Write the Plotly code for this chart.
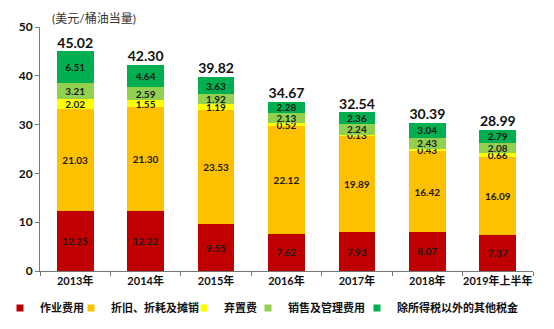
import plotly.graph_objects as go

years = ["2013年", "2014年", "2015年", "2016年", "2017年", "2018年", "2019年上半年"]
operating = [12.25, 12.22, 9.55, 7.62, 7.93, 8.07, 7.37]
depreciation = [21.03, 21.30, 23.53, 22.12, 19.89, 16.42, 16.09]
abandonment = [2.02, 1.55, 1.19, 0.52, 0.13, 0.43, 0.66]
sales_admin = [3.21, 2.59, 1.92, 2.13, 2.24, 2.43, 2.08]
other_tax = [6.51, 4.64, 3.63, 2.28, 2.36, 3.04, 2.79]
totals = [45.02, 42.30, 39.82, 34.67, 32.54, 30.39, 28.99]

series = [
    ("作业费用", operating, "#C00000"),
    ("折旧、折耗及摊销", depreciation, "#FFC000"),
    ("弃置费", abandonment, "#FFFF00"),
    ("销售及管理费用", sales_admin, "#92D050"),
    ("除所得税以外的其他税金", other_tax, "#00B050"),
]
legend_left_px = [0, 71, 184, 248, 357]

FONT = "Lato, 'Noto Sans CJK SC', sans-serif"
W, H = 554, 329

fig = go.Figure()
for i, (name, vals, color) in enumerate(series):
    lg = "legend" if i == 0 else f"legend{i+1}"
    fig.add_trace(go.Bar(
        name=name, x=years, y=vals,
        marker=dict(color=color, line=dict(width=0)),
        text=[f"{v:.2f}" for v in vals],
        textposition="inside", insidetextanchor="middle",
        textangle=0, constraintext="none",
        textfont=dict(size=10, color="#1a1a1a", family=FONT, weight="bold"),
        width=0.52, showlegend=False,
    ))
    # legend entry (no data drawn)
    fig.add_trace(go.Scatter(
        name=name, x=[None], y=[None], mode="markers",
        marker=dict(symbol="square", size=7, color=color),
        legend=lg, showlegend=True,
    ))

fig.add_trace(go.Scatter(
    x=years, y=totals, mode="text",
    text=[f"{v:.2f}" for v in totals],
    textposition="top center",
    textfont=dict(size=14, color="#111", family=FONT, weight="bold"),
    showlegend=False, cliponaxis=False, hoverinfo="skip",
))

legend_common = dict(
    orientation="h", xref="container", yref="container",
    xanchor="left", yanchor="middle", y=(H - 308) / H,
    font=dict(size=11, family=FONT, weight="bold", color="#111"),
    bgcolor="rgba(0,0,0,0)", borderwidth=0, itemwidth=30,
)
legends = {}
for i, lx in enumerate(legend_left_px):
    key = "legend" if i == 0 else f"legend{i+1}"
    legends[key] = dict(legend_common, x=lx / W)

fig.update_layout(
    barmode="stack",
    width=W, height=H,
    margin=dict(l=40, r=21, t=27, b=58, autoexpand=False),
    paper_bgcolor="white", plot_bgcolor="white",
    font=dict(family=FONT, color="#111"),
    bargap=0.48,
    annotations=[dict(
        text="(美元/桶油当量)", xref="paper", yref="paper",
        x=0.02, y=(271 - 18) / 244, xanchor="left", yanchor="middle",
        showarrow=False, font=dict(size=12, color="#333", family=FONT),
    )],
    **legends,
)

fig.update_yaxes(
    range=[0, 50], dtick=10, showgrid=False, zeroline=False,
    showline=True, linecolor="#777", linewidth=1,
    ticks="outside", ticklen=4, tickcolor="#777",
    tickfont=dict(size=12, family=FONT, weight="bold", color="#111"),
)
fig.update_xaxes(
    showgrid=False, showline=True, linecolor="#777", linewidth=1,
    ticks="outside", ticklen=4, tickcolor="#777", tickson="boundaries",
    tickangle=0,
    tickfont=dict(size=11, family=FONT, weight="bold", color="#111"),
)

fig.write_html("out.html")
